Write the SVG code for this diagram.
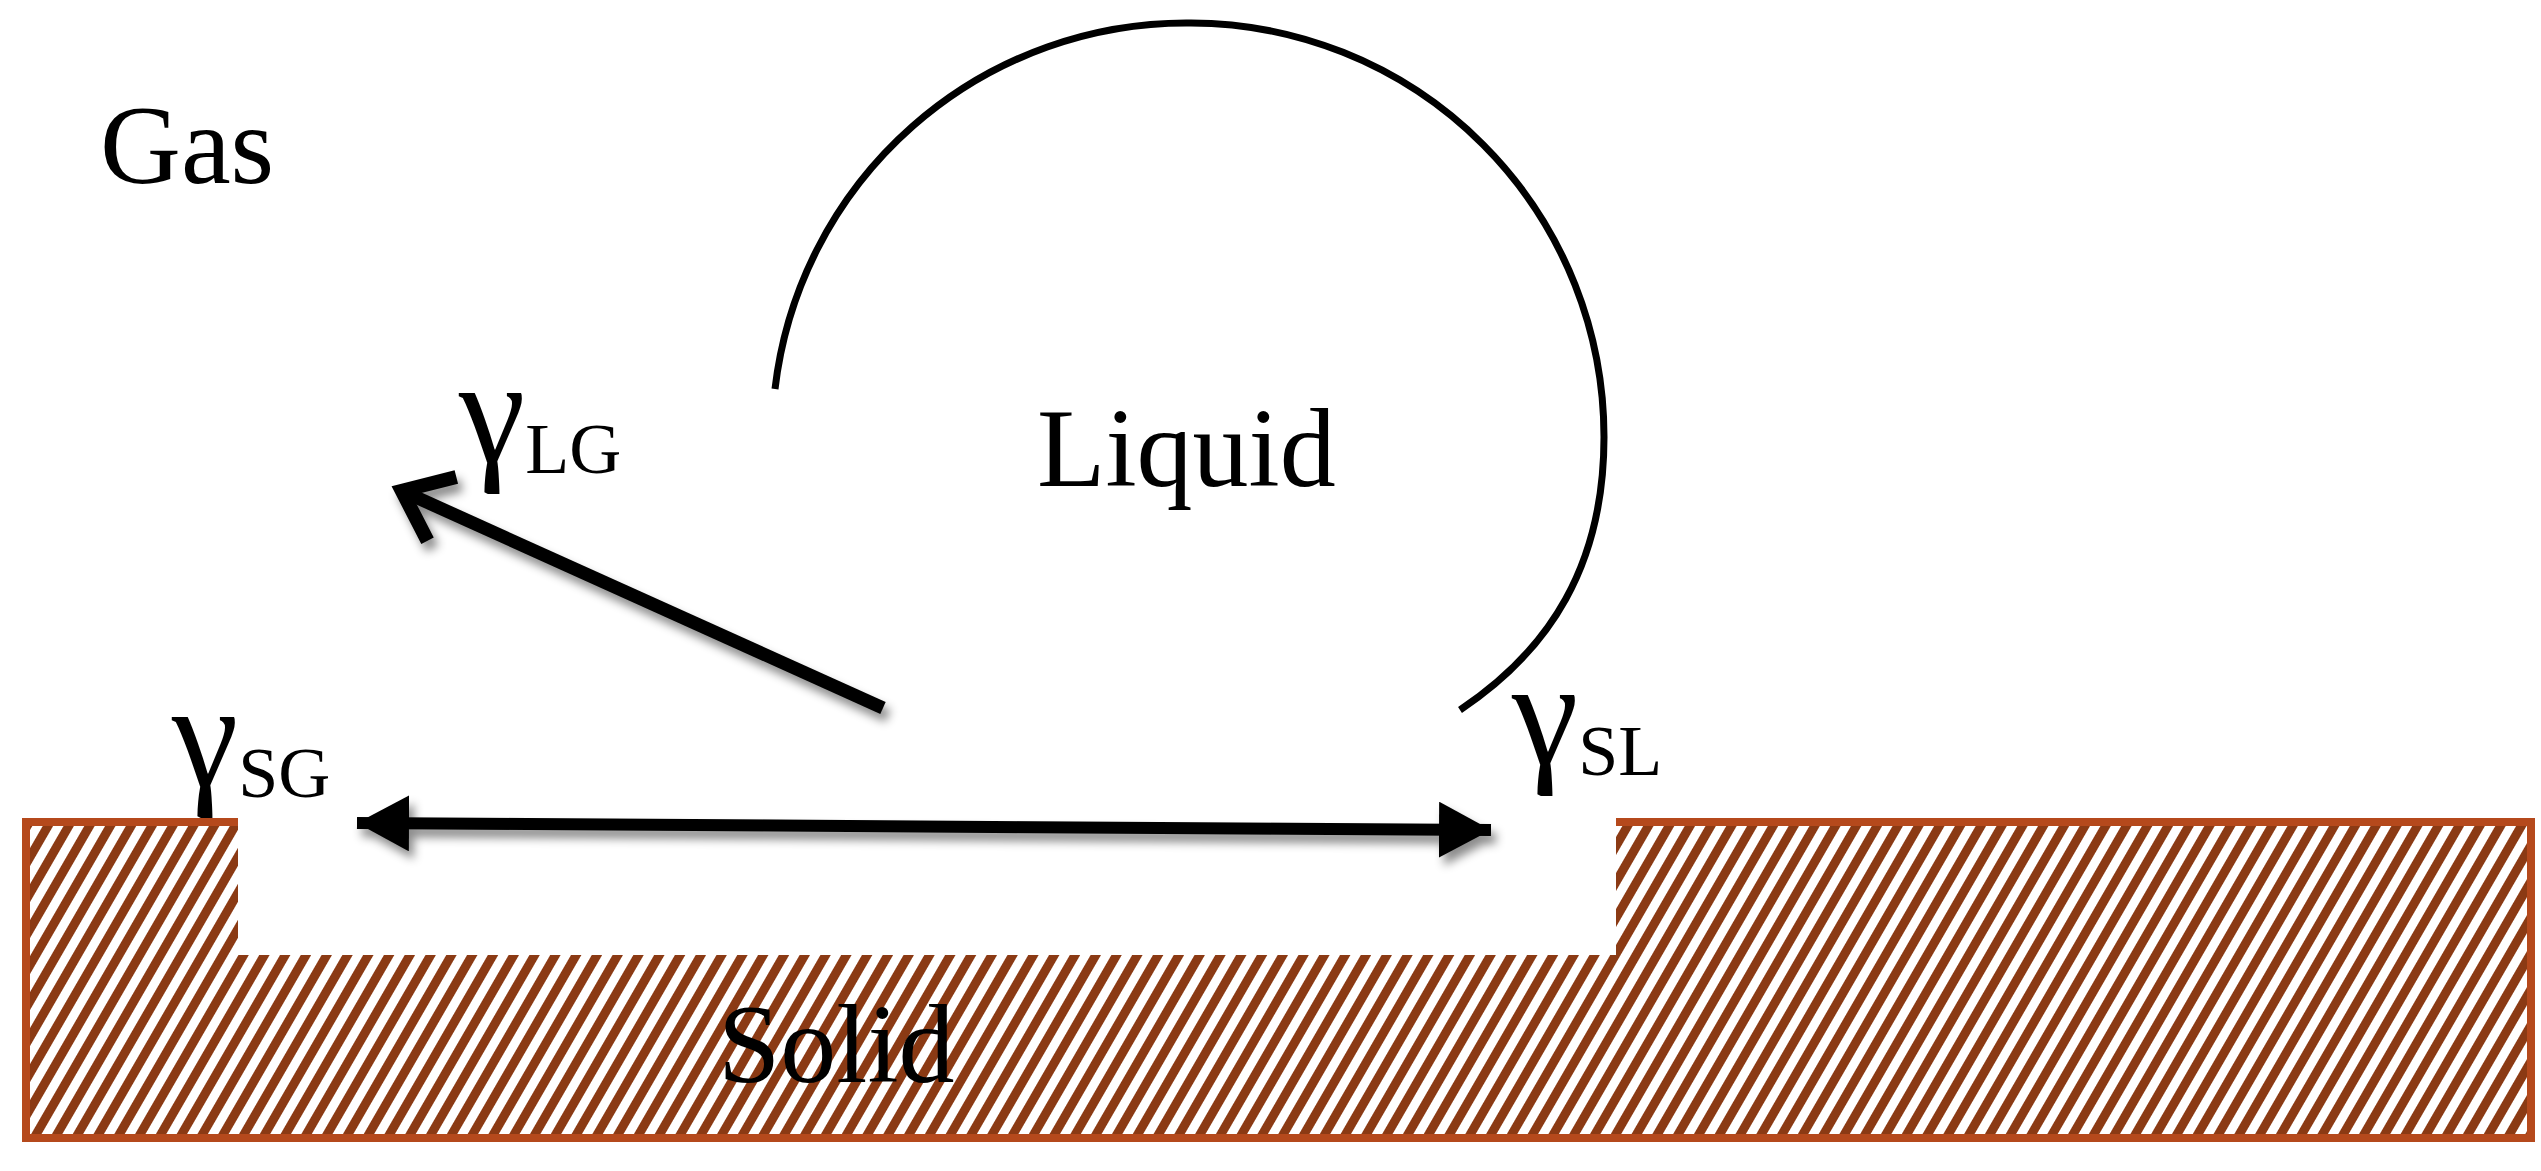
<svg xmlns="http://www.w3.org/2000/svg" width="2541" height="1171" viewBox="0 0 2541 1171">
<style>
text{font-family:"Liberation Serif","Times New Roman",serif;fill:#000}
.big{font-size:112px}
.g{font-size:150px}
.sub{font-size:72px}
.edge{fill:none;stroke:#B5491C;stroke-width:8}
</style>
<defs>
<pattern id="hatch" patternUnits="userSpaceOnUse" width="18" height="18" patternTransform="rotate(30)">
<rect width="18" height="18" fill="#fff"/>
<rect width="9" height="18" fill="#8B3A14"/>
</pattern>
<filter id="sh" x="-20%" y="-50%" width="140%" height="200%">
<feDropShadow dx="5" dy="8" stdDeviation="5" flood-color="#000" flood-opacity="0.45"/>
</filter>
<marker id="tri" markerUnits="userSpaceOnUse" markerWidth="70" markerHeight="70" refX="52" refY="28" orient="auto-start-reverse">
<path d="M0,0 L52,28 L0,56 Z" fill="#000"/>
</marker>
<marker id="chev" markerUnits="userSpaceOnUse" markerWidth="90" markerHeight="90" refX="66" refY="45" orient="auto">
<path d="M20,10 L64,45 L20,80" fill="none" stroke="#000" stroke-width="14" stroke-linejoin="miter"/>
</marker>
</defs>
<rect width="2541" height="1171" fill="#fff"/>
<g id="solid">
<path d="M26,822 H238 V955 H1616 V822 H2531 V1138 H26 Z" fill="url(#hatch)"/>
<path class="edge" d="M238,822 H26 V1138 H2531 V822 H1616"/>
<text class="big" x="718" y="1082">Solid</text>
</g>
<g id="liquid">
<path d="M775,389 A414,414 0 0 1 1191,23 A414,414 0 0 1 1604,437 C1604,565 1550,650 1460,710" fill="none" stroke="#000" stroke-width="7"/>
<text class="big" x="1037" y="486">Liquid</text>
</g>
<g id="gas"><text class="big" x="100" y="183">Gas</text></g>
<g id="labels">
<text x="459" y="462"><tspan class="g">γ</tspan><tspan class="sub" dy="11">LG</tspan></text>
<text x="172" y="786"><tspan class="g">γ</tspan><tspan class="sub" dy="11">SG</tspan></text>
<text x="1512" y="764"><tspan class="g">γ</tspan><tspan class="sub" dy="11">SL</tspan></text>
</g>
<g id="connectors" filter="url(#sh)">
<line x1="883" y1="708" x2="400" y2="490" stroke="#000" stroke-width="13" marker-end="url(#chev)"/>
<line x1="357" y1="823" x2="1491" y2="830" stroke="#000" stroke-width="12" marker-start="url(#tri)" marker-end="url(#tri)"/>
</g>
</svg>
